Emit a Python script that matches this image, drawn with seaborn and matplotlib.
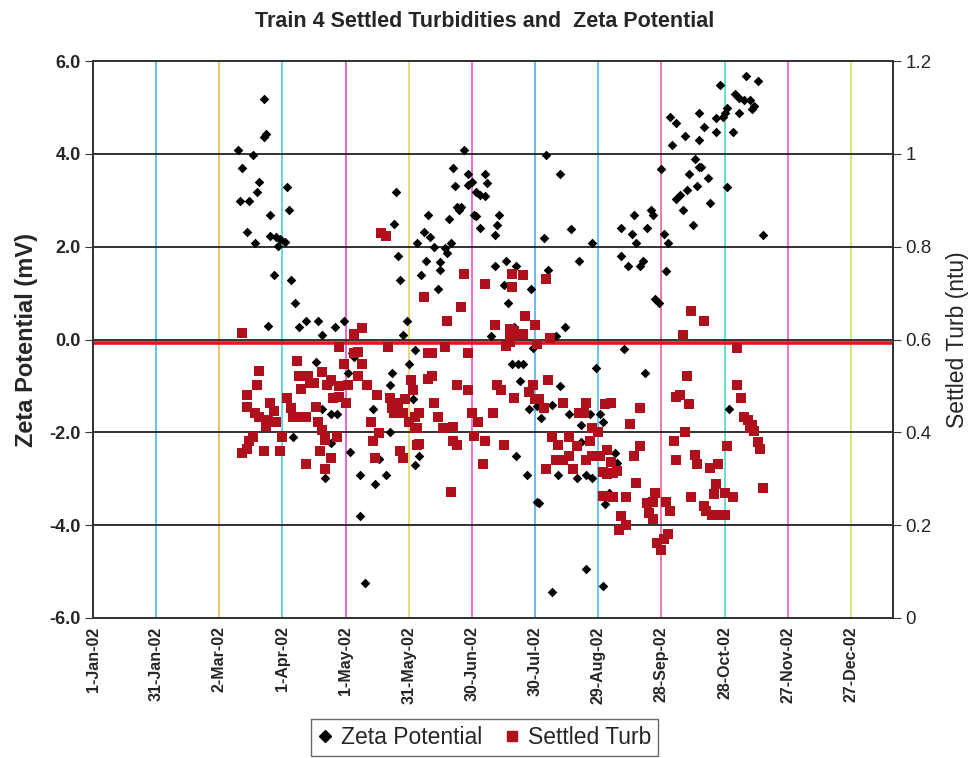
import numpy as np
import pandas as pd
import matplotlib
matplotlib.use("Agg")
import matplotlib.pyplot as plt
from matplotlib.lines import Line2D
import seaborn as sns

# Zeta potential readings: day of 2002 (0 = 1-Jan-02) and value in mV
zeta_day = [81, 81, 82, 69, 76, 71, 79, 78, 70, 74, 92, 93, 84, 73, 77, 84, 87, 89, 91, 88,
            86, 94, 96, 83, 98, 101, 107, 109, 106, 95, 110,
            115, 119, 144, 143, 145, 146, 149, 147, 123, 124, 121, 150, 142, 141, 109, 113, 116,
            152, 133, 141, 113, 122, 136, 127, 134, 139, 155, 127, 129, 113,
            176, 171, 178, 186, 172, 178, 180, 187, 182, 184, 186, 173, 175, 174, 181, 182, 159,
            169, 193, 192, 191, 184, 157, 160, 154, 162, 167, 170, 168, 158, 165, 165, 156, 164,
            196, 191, 195, 197, 200, 189, 153, 202, 153,
            215, 222, 227, 214, 237, 231, 201, 216, 208, 224, 220, 209, 199, 204, 239, 203, 222,
            207, 211, 213, 218, 226, 232, 236, 241, 242, 232, 201, 230, 234, 237, 206, 221, 211,
            212, 245, 234, 218,
            274, 277, 288, 281, 275, 286, 289, 283, 270, 287, 282, 279, 277, 280, 285, 257, 265,
            266, 251, 256, 258, 263, 271, 273, 251, 254, 261, 260, 272, 267, 269, 252, 262, 248,
            249, 243, 242,
            298, 310, 316, 305, 307, 309, 312, 314, 313, 301, 300, 299, 307, 296, 290, 296, 304,
            288, 288, 292, 301, 293, 318, 302]
zeta_mv = [5.19, 4.36, 4.42, 4.09, 3.98, 3.69, 3.40, 3.18, 2.99, 2.99, 3.28, 2.78, 2.69, 2.31,
           2.09, 2.22, 2.21, 2.17, 2.10, 2.01, 1.40, 1.28, 0.78, 0.30, 0.28, 0.39, 0.39, 0.10,
           -0.49, -2.11, -2.98,
           0.28, 0.39, 3.18, 2.49, 1.80, 1.28, 0.39, 0.10, -0.29, -0.38, -0.72, -0.52, -0.72,
           -0.99, -1.50, -1.61, -1.61, -1.29, -1.50, -2.00, -2.23, -2.42, -2.58, -2.91, -3.11,
           -2.91, -2.50, -3.81, -5.24, -0.91,
           4.08, 3.69, 3.57, 3.57, 3.31, 3.32, 3.40, 3.38, 3.18, 3.11, 3.09, 2.85, 2.86, 2.78,
           2.69, 2.67, 2.69, 2.59, 2.69, 2.47, 2.26, 2.40, 2.31, 2.21, 2.09, 2.00, 1.97, 2.09,
           1.86, 1.69, 1.67, 1.49, 1.40, 1.09, 1.69, 1.59, 1.18, 0.78, 0.28, 0.08, -0.22, -0.52,
           -2.71,
           3.98, 3.57, 2.38, 2.18, 2.07, 1.69, 1.59, 1.49, 1.09, 0.28, 0.08, -0.19, -0.52, -0.52,
           -0.61, -0.90, -1.01, -1.50, -1.44, -1.69, -1.42, -1.61, -1.84, -1.61, -1.61, -1.77,
           -2.21, -2.50, -2.98, -2.91, -2.98, -2.91, -2.91, -3.50, -3.52, -3.31, -4.94, -5.43,
           4.79, 4.67, 4.88, 4.39, 4.19, 3.88, 3.72, 3.57, 3.67, 3.31, 3.23, 3.11, 3.03, 2.78,
           2.47, 2.69, 2.78, 2.69, 2.40, 2.28, 2.07, 2.40, 2.28, 2.07, 1.80, 1.59, 1.69, 1.59,
           1.47, 0.87, 0.78, -0.21, -0.72, -2.44, -2.65, -3.54, -5.31,
           5.48, 5.67, 5.56, 5.29, 5.21, 5.17, 5.17, 5.03, 4.96, 4.98, 4.88, 4.79, 4.87, 4.77,
           4.57, 4.46, 4.46, 4.29, 3.71, 3.48, 3.28, 2.95, 2.26, -1.50]

# Settled turbidity readings: day of 2002 and value in ntu
turb_day = [71, 79, 78, 73, 73, 77, 79, 84, 86, 83, 87, 82, 76, 74, 71, 73, 81, 89, 92, 94,
            95, 98, 101, 90, 97, 98, 102, 103, 105, 99, 106, 107, 109, 110, 101, 110,
            137, 139, 124, 128, 117, 140, 124, 126, 119, 128, 109, 113, 111, 117, 121, 126, 130,
            114, 117, 120, 135, 141, 142, 145, 143, 147, 151, 152, 148, 150, 154, 132, 136, 133,
            116, 110, 108, 113, 134, 146, 147, 155,
            176, 186, 157, 175, 168, 191, 198, 200, 196, 198, 159, 161, 167, 178, 159, 161, 173,
            178, 192, 194, 162, 155, 164, 166, 171, 153, 153, 180, 183, 190, 171, 173, 181, 186,
            154, 195, 185, 170,
            199, 204, 199, 215, 205, 210, 198, 200, 204, 211, 217, 216, 209, 207, 210, 212, 200,
            214, 223, 234, 231, 233, 246, 237, 240, 218, 226, 221, 236, 230, 220, 223, 226, 234,
            237, 241, 228, 215, 246, 242,
            284, 290, 280, 282, 277, 279, 283, 243, 260, 255, 281, 276, 244, 260, 257, 277, 286,
            287, 242, 244, 247, 249, 258, 247, 253, 263, 267, 266, 272, 274, 284, 251, 253, 250,
            264, 266, 273, 270, 268, 271,
            306, 306, 308, 309, 311, 313, 314, 316, 317, 312, 301, 293, 297, 296, 295, 300, 304,
            290, 291, 294, 297, 300, 318]
turb_ntu = [0.615, 0.532, 0.503, 0.481, 0.455, 0.441, 0.433, 0.463, 0.445, 0.427, 0.422, 0.414,
            0.391, 0.381, 0.356, 0.365, 0.360, 0.360, 0.473, 0.453, 0.433, 0.433, 0.433, 0.391,
            0.553, 0.522, 0.522, 0.507, 0.507, 0.493, 0.455, 0.422, 0.406, 0.387, 0.332, 0.321,
            0.830, 0.823, 0.612, 0.625, 0.584, 0.584, 0.572, 0.574, 0.548, 0.548, 0.530, 0.512,
            0.501, 0.499, 0.501, 0.522, 0.501, 0.473, 0.476, 0.463, 0.481, 0.473, 0.453, 0.463,
            0.441, 0.441, 0.512, 0.491, 0.472, 0.422, 0.410, 0.422, 0.399, 0.381, 0.391, 0.383,
            0.360, 0.345, 0.345, 0.360, 0.345, 0.375,
            0.742, 0.720, 0.692, 0.671, 0.640, 0.632, 0.612, 0.618, 0.587, 0.595, 0.570, 0.570,
            0.584, 0.570, 0.514, 0.522, 0.503, 0.491, 0.503, 0.491, 0.463, 0.441, 0.433, 0.410,
            0.412, 0.433, 0.410, 0.441, 0.422, 0.441, 0.381, 0.372, 0.393, 0.381, 0.372, 0.372,
            0.332, 0.271,
            0.742, 0.740, 0.714, 0.730, 0.651, 0.632, 0.622, 0.611, 0.611, 0.591, 0.603, 0.512,
            0.501, 0.486, 0.472, 0.472, 0.473, 0.453, 0.463, 0.463, 0.441, 0.441, 0.463, 0.410,
            0.401, 0.391, 0.391, 0.372, 0.381, 0.370, 0.341, 0.341, 0.350, 0.341, 0.350, 0.350,
            0.321, 0.321, 0.337, 0.262,
            0.661, 0.640, 0.609, 0.522, 0.476, 0.481, 0.460, 0.460, 0.453, 0.419, 0.401, 0.381,
            0.362, 0.370, 0.350, 0.341, 0.352, 0.332, 0.314, 0.310, 0.312, 0.316, 0.291, 0.260,
            0.260, 0.248, 0.270, 0.250, 0.250, 0.231, 0.260, 0.219, 0.200, 0.190, 0.227, 0.214,
            0.180, 0.147, 0.161, 0.170,
            0.581, 0.501, 0.473, 0.433, 0.426, 0.416, 0.402, 0.379, 0.364, 0.410, 0.370, 0.324,
            0.332, 0.288, 0.267, 0.270, 0.260, 0.242, 0.231, 0.221, 0.221, 0.221, 0.281]

# Tick dates every 30 days and the colours of the (scanned) vertical gridlines
tick_days = [0, 30, 60, 90, 120, 150, 180, 210, 240, 270, 300, 330, 360]
vline_colors = ['#40b8e0', '#40b0e8', '#f0b040', '#30d0d8', '#e040c8', '#e8d040', '#e848d0',
                '#40a8e8', '#38b8e8', '#f05088', '#38d8c0', '#f050c0', '#c8e050']
zeta_ticks = [-6, -4, -2, 0, 2, 4, 6]
turb_ticks = [0, 0.2, 0.4, 0.6, 0.8, 1.0, 1.2]
turb_ticklabels = ['0', '0.2', '0.4', '0.6', '0.8', '1', '1.2']
red_line_zeta = -0.08

start = pd.Timestamp('2002-01-01')
df_zeta = pd.DataFrame({'date': start + pd.to_timedelta(zeta_day, unit='D'), 'zeta': zeta_mv})
df_turb = pd.DataFrame({'date': start + pd.to_timedelta(turb_day, unit='D'), 'turb': turb_ntu})
tick_dates = [start + pd.Timedelta(days=d) for d in tick_days]

sns.set_style('white')
plt.rcParams['font.family'] = ['Liberation Sans', 'DejaVu Sans']

fig = plt.figure(figsize=(9.69, 7.58), dpi=100)
ax = fig.add_axes([0.096, 0.1847, 0.8256, 0.7348])
ax2 = ax.twinx()

# gridlines
for d, c in zip(tick_dates[1:], vline_colors[1:]):
    ax.axvline(d, color=c, lw=1.1, zorder=1)
for y in [-4, -2, 0, 2, 4]:
    ax.axhline(y, color='#222222', lw=1.3, zorder=1)
ax.axhline(red_line_zeta, color='#e8141c', lw=2.6, zorder=2)

sns.scatterplot(data=df_zeta, x='date', y='zeta', ax=ax, marker='D', color='black',
                s=24, linewidth=0, legend=False, zorder=3)
sns.scatterplot(data=df_turb, x='date', y='turb', ax=ax2, marker='s', color='#b0101c',
                s=42, linewidth=0, legend=False, zorder=3)

ax.set_xlim(start, pd.Timestamp('2003-01-16'))
ax.set_ylim(-6, 6)
ax2.set_ylim(0, 1.2)
ax.set_yticks(zeta_ticks)
ax.set_yticklabels([f'{v:.1f}' for v in zeta_ticks], fontsize=13, fontweight='bold')
ax2.set_yticks(turb_ticks)
ax2.set_yticklabels(turb_ticklabels, fontsize=13.5)
ax.set_xticks(tick_dates)
ax.set_xticklabels([f'{d.day}-{d.strftime("%b-%y")}' for d in tick_dates],
                   rotation=90, fontsize=11.5, fontweight='bold')
ax.tick_params(axis='x', length=3, color='#333333', pad=3)
ax.tick_params(axis='y', length=6, color='#333333', pad=3)
ax2.tick_params(axis='y', length=6, color='#333333', pad=3)

ax.set_xlabel('')
ax.set_ylabel('Zeta Potential (mV)', fontsize=17, fontweight='bold', labelpad=8)
ax2.set_ylabel('Settled Turb (ntu)', fontsize=16.5, labelpad=10)

for a in (ax, ax2):
    for s in a.spines.values():
        s.set_color('#333333')
        s.set_linewidth(1.3)

fig.text(0.5, 0.972, 'Train 4 Settled Turbidities and  Zeta Potential',
         ha='center', va='center', fontsize=15.5, fontweight='bold')

handles = [Line2D([], [], marker='D', color='black', ls='', markersize=6),
           Line2D([], [], marker='s', color='#b0101c', ls='', markersize=7)]
leg = fig.legend(handles, ['Zeta Potential', 'Settled Turb'], loc='lower center',
                 bbox_to_anchor=(0.5, -0.012), ncol=2, fontsize=16.5, frameon=True,
                 fancybox=False, handlelength=0.6, handletextpad=0.4, columnspacing=1.0,
                 borderpad=0.3)
leg.get_frame().set_edgecolor('#444444')
leg.get_frame().set_linewidth(1.0)

fig.savefig('out.png', dpi=100)
